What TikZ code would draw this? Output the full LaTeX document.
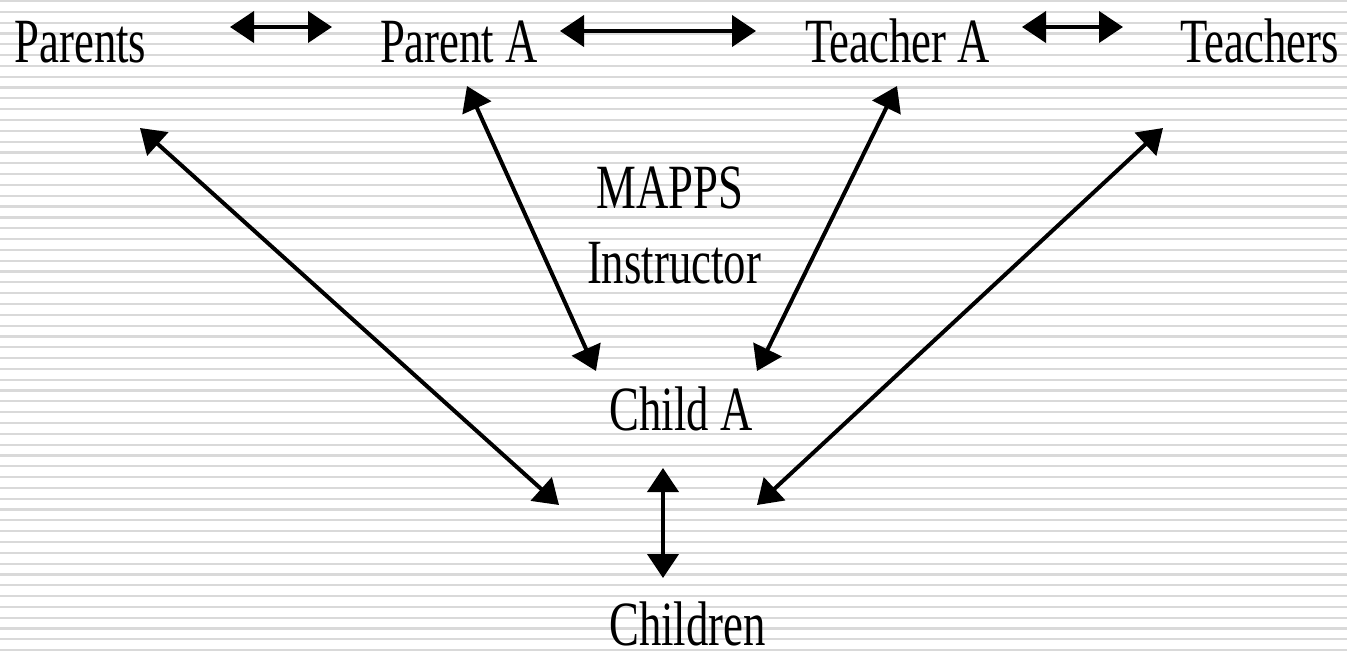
\documentclass[tikz,border=0pt]{standalone}
\usepackage{fontspec}
\newfontfamily\tnr[FakeStretch=0.71]{Liberation Serif}
\usetikzlibrary{arrows.meta}
\tikzset{
  lbl/.style={anchor=base, inner sep=0pt, text depth=0pt, font=\tnr\fontsize{63}{70}\selectfont},
  link/.style={line width=4pt, {Triangle[length=24pt,width=31pt]}-{Triangle[length=24pt,width=31pt]}},
  bgline/.style={line width=2.2pt, draw=black!15}
}
\begin{document}
\begin{tikzpicture}[x=1pt,y=-1pt]
\useasboundingbox (0,0) rectangle (1347,654);
\fill[white] (0,0) rectangle (1347,654);
\foreach \i in {0,...,60} {
  \draw[bgline] (0,{1+10.82*\i}) -- (1347,{1+10.82*\i});
}
% labels
\node[lbl] (parents) at (80.5,62) {Parents};
\node[lbl] (parentA) at (459,62) {Parent A};
\node[lbl] (teacherA) at (897.5,62) {Teacher A};
\node[lbl] (teachers) at (1259.5,62) {Teachers};
\node[lbl] (mapps) at (670,208) {MAPPS};
\node[lbl] (instr) at (674,283) {Instructor};
\node[lbl] (childA) at (681,430) {Child A};
\node[lbl] (children) at (687.5,645) {Children};
% arrow end points
\coordinate (a1l) at (230,27);
\coordinate (a1r) at (332,27);
\coordinate (a2l) at (560,31);
\coordinate (a2r) at (756,31);
\coordinate (a3l) at (1022,27);
\coordinate (a3r) at (1123,27);
\coordinate (pAb) at (467,86);
\coordinate (pAc) at (596,371);
\coordinate (tAb) at (897,86);
\coordinate (tAc) at (757,371);
\coordinate (psb) at (140,128);
\coordinate (psc) at (559,505);
\coordinate (tsb) at (1163,128);
\coordinate (tsc) at (757,505);
\coordinate (cAb) at (663,468);
\coordinate (chT) at (663,578);
% connectors
\draw[link] (a1l) -- (a1r);
\draw[link] (a2l) -- (a2r);
\draw[link] (a3l) -- (a3r);
\draw[link] (pAb) -- (pAc);
\draw[link] (tAb) -- (tAc);
\draw[link] (psb) -- (psc);
\draw[link] (tsb) -- (tsc);
\draw[link] (cAb) -- (chT);
\end{tikzpicture}
\end{document}
